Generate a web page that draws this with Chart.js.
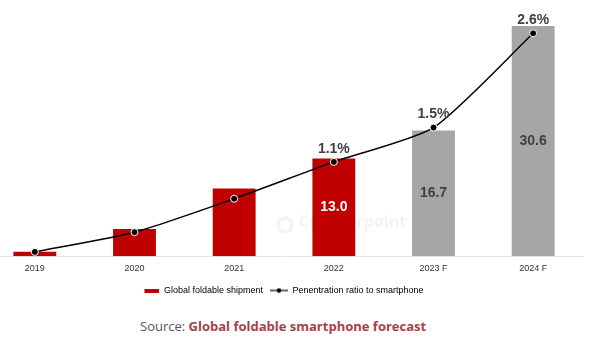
<!DOCTYPE html>
<html>
<head>
<meta charset="utf-8">
<script src="https://cdn.jsdelivr.net/npm/chart.js@4/dist/chart.umd.min.js"></script>
<style>
    html, body { margin: 0; padding: 0; background: #fff; overflow: hidden; }
    body { width: 592px; height: 341px; position: relative; }
    #wrap { position: absolute; left: -20px; top: 0; width: 613px; height: 305px; }
    #source {
        position: absolute; left: 140px; top: 317px;
        font: 13px "Open Sans", sans-serif; color: #555;
        white-space: nowrap;
    }
    #source b { color: #a8404c; }
</style>
</head>
<body>
<div id="wrap"><canvas id="chart"></canvas></div>
<div id="source">Source: <b>Global foldable smartphone forecast</b></div>
<script>
const years = ['2019', '2020', '2021', '2022', '2023 F', '2024 F'];
const shipments = [0.6, 3.6, 9.0, 13.0, 16.7, 30.6];
const penetration = [0.05, 0.28, 0.67, 1.1, 1.5, 2.6];
const barColors = ['#c00000', '#c00000', '#c00000', '#c00000', '#a6a6a6', '#a6a6a6'];
const shipmentLabels = ['', '', '', '13.0', '16.7', '30.6'];
const ratioLabels = ['', '', '', '1.1%', '1.5%', '2.6%'];

// legend markers
function swatch () {
    const c = document.createElement('canvas');
    c.width = 20; c.height = 4;
    const ctx = c.getContext('2d');
    ctx.fillStyle = '#c00000';
    ctx.fillRect(5, 0, 15, 4);
    return c;
}
function lineDot () {
    const c = document.createElement('canvas');
    c.width = 20; c.height = 6;
    const ctx = c.getContext('2d');
    ctx.strokeStyle = '#000';
    ctx.lineWidth = 1.2;
    ctx.beginPath(); ctx.moveTo(2, 3); ctx.lineTo(20, 3); ctx.stroke();
    ctx.fillStyle = '#000';
    ctx.beginPath(); ctx.arc(11, 3, 2.3, 0, Math.PI * 2); ctx.fill();
    return c;
}

const labelsPlugin = {
    id: 'labels',
    afterDatasetsDraw (chart) {
        const ctx = chart.ctx;
        ctx.save();
        ctx.textAlign = 'center';
        ctx.textBaseline = 'middle';
        ctx.font = 'bold 14px "Liberation Sans", Arial, sans-serif';

        chart.getDatasetMeta(0).data.forEach((bar, i) => {
            if (!shipmentLabels[i]) return;
            ctx.fillStyle = i === 3 ? '#ffffff' : '#404040';
            ctx.fillText(shipmentLabels[i], bar.x, (bar.y + bar.base) / 2);
        });
        chart.getDatasetMeta(1).data.forEach((pt, i) => {
            if (!ratioLabels[i]) return;
            ctx.fillStyle = '#404040';
            ctx.fillText(ratioLabels[i], pt.x, pt.y - 13);
        });
        ctx.restore();
    },
    beforeDatasetsDraw (chart) {
        // faint watermark
        const ctx = chart.ctx;
        ctx.save();
        ctx.globalAlpha = 0.1;
        ctx.strokeStyle = '#888';
        ctx.fillStyle = '#888';
        ctx.lineWidth = 3;
        ctx.beginPath(); ctx.arc(305, 225, 7, 0, Math.PI * 2); ctx.stroke();
        ctx.font = 'bold 16px "Open Sans", sans-serif';
        ctx.textBaseline = 'middle';
        ctx.fillText('Counterpoint', 319, 222);
        ctx.restore();
    }
};

new Chart(document.getElementById('chart'), {
    data: {
        labels: years,
        datasets: [{
            type: 'bar',
            label: 'Global foldable shipment',
            data: shipments,
            backgroundColor: barColors,
            barPercentage: 0.86,
            categoryPercentage: 0.5,
            yAxisID: 'y',
            order: 2
        }, {
            type: 'line',
            label: 'Penentration ratio to smartphone',
            data: penetration,
            borderColor: '#000',
            borderWidth: 1.5,
            tension: 0.2,
            pointRadius: 3.5,
            pointBackgroundColor: '#000',
            pointBorderColor: '#fff',
            pointBorderWidth: 1,
            yAxisID: 'y1',
            order: 1
        }]
    },
    options: {
        responsive: true,
        maintainAspectRatio: false,
        animation: false,
        layout: { padding: { top: 1, right: 10, left: 0, bottom: 0 } },
        plugins: {
            tooltip: { enabled: false },
            legend: {
                position: 'bottom',
                labels: {
                    usePointStyle: true,
                    pointStyleWidth: 20,
                    boxHeight: 6,
                    padding: 5,
                    color: '#555',
                    font: { size: 9, family: '"Liberation Sans", Arial, sans-serif' },
                    generateLabels: chart => [
                        { text: 'Global foldable shipment', pointStyle: swatch(), datasetIndex: 0, lineWidth: 0 },
                        { text: 'Penentration ratio to smartphone', pointStyle: lineDot(), datasetIndex: 1, lineWidth: 0 }
                    ]
                }
            }
        },
        scales: {
            x: {
                grid: { display: false, drawTicks: false },
                border: { color: '#e3e3e3', width: 1 },
                ticks: {
                    padding: 7,
                    color: '#333',
                    font: { size: 9, family: '"Liberation Sans", Arial, sans-serif' }
                }
            },
            y: { display: false, min: 0, max: 33.4 },
            y1: { display: false, min: 0, max: 2.93, position: 'right' }
        }
    },
    plugins: [labelsPlugin]
});
</script>
</body>
</html>
